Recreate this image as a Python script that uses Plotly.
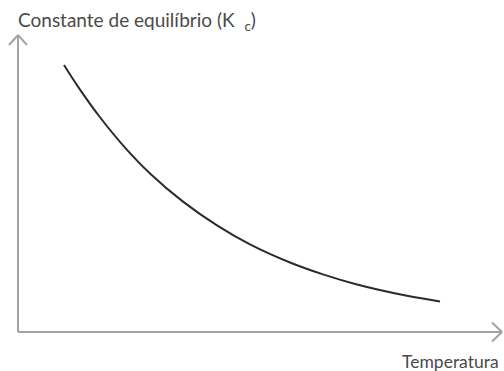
import plotly.graph_objects as go

# Equilibrium constant vs temperature (arbitrary units, qualitative curve)
temperatura = [9.58, 12.92, 17.08, 22.29, 27.5, 34.38, 41.46, 48.33,
               56.67, 63.54, 70.63, 81.04, 87.92]
constante_kc = [89.9, 81.6, 72.3, 62.1, 53.4, 43.9, 35.9, 29.5,
                23.4, 19.4, 16.0, 12.2, 10.3]

y_label = "Constante de equilíbrio (K  <sub>c</sub>)"
x_label = "Temperatura"

W, H = 504, 371
# axis ranges so that the origin of the drawn axes sits at a fixed spot
x_range = [-3.75, 101.25]
y_range = [-13.13, 111.78]
px_x = (x_range[1] - x_range[0]) / W      # data units per pixel, horizontal
px_y = (y_range[1] - y_range[0]) / H      # data units per pixel, vertical

axis_col = "#a3a3a3"

fig = go.Figure()
fig.add_trace(go.Scatter(
    x=temperatura, y=constante_kc, mode="lines",
    line=dict(color="#2b2b2b", width=2, shape="spline", smoothing=1.0),
    hoverinfo="skip", showlegend=False,
))

shapes = []
def seg(x0, y0, x1, y1):
    shapes.append(dict(type="line", xref="x", yref="y", x0=x0, y0=y0, x1=x1, y1=y1,
                       line=dict(color=axis_col, width=2)))

y_top = 100
x_right = 100 + 4 * px_x
# axes
seg(0, 0, 0, y_top)
seg(0, 0, x_right, 0)
# open arrowheads
seg(0, y_top, -9 * px_x, y_top - 10 * px_y)
seg(0, y_top, 9 * px_x, y_top - 10 * px_y)
seg(x_right, 0, x_right - 10 * px_x, 9.5 * px_y)
seg(x_right, 0, x_right - 10 * px_x, -9.5 * px_y)

fig.update_layout(
    width=W, height=H,
    margin=dict(l=0, r=0, t=0, b=0),
    paper_bgcolor="white", plot_bgcolor="white",
    xaxis=dict(range=x_range, visible=False, fixedrange=True),
    yaxis=dict(range=y_range, visible=False, fixedrange=True),
    shapes=shapes,
    annotations=[
        dict(text=y_label, xref="paper", yref="paper", x=16 / W, y=1 - 21 / H,
             xanchor="left", yanchor="middle", showarrow=False,
             font=dict(family="Lato", size=19, color="#4a4a4a")),
        dict(text=x_label, xref="paper", yref="paper", x=501 / W, y=1 - 361 / H,
             xanchor="right", yanchor="middle", showarrow=False,
             font=dict(family="Lato", size=17.5, color="#4a4a4a")),
    ],
)

fig.write_html("out.html")
